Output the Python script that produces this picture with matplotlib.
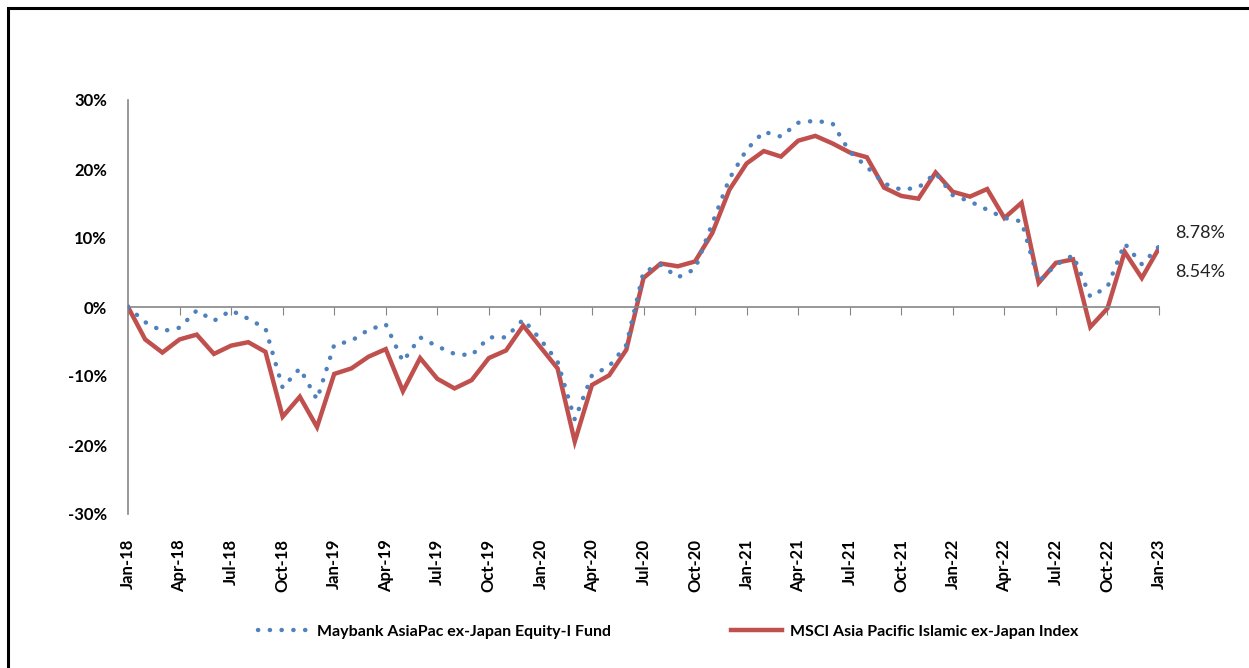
import numpy as np
import matplotlib
matplotlib.use('Agg')
import matplotlib.pyplot as plt
from matplotlib.patches import Rectangle

# Cumulative returns, monthly Jan-18 .. Jan-23 (%)
fund = [0.0, -2.2, -3.5, -3.0, -0.5, -2.0, -0.5, -1.7, -3.1, -11.7,
        -8.9, -13.4, -5.5, -4.9, -3.3, -2.5, -7.9, -4.4, -5.7, -6.8,
        -7.0, -4.4, -4.4, -1.8, -4.7, -7.9, -16.3, -9.9, -8.6, -5.5,
        5.1, 6.1, 4.3, 5.5, 12.1, 18.6, 22.8, 25.4, 24.7, 26.7,
        27.0, 26.6, 22.5, 20.3, 17.9, 17.0, 17.3, 19.4, 16.2, 15.3,
        14.1, 12.9, 12.4, 3.7, 6.1, 7.5, 1.5, 2.9, 9.2, 6.2, 8.78]
index = [0.0, -4.7, -6.6, -4.7, -4.0, -6.8, -5.6, -5.1, -6.5, -15.9,
         -13.0, -17.4, -9.7, -8.9, -7.2, -6.1, -12.2, -7.4, -10.4, -11.8,
         -10.6, -7.4, -6.3, -2.7, -5.8, -8.9, -19.5, -11.3, -9.9, -6.2,
         4.2, 6.3, 5.9, 6.6, 10.7, 17.0, 20.8, 22.6, 21.8, 24.1,
         24.8, 23.7, 22.4, 21.7, 17.3, 16.1, 15.7, 19.5, 16.7, 16.0,
         17.1, 12.9, 15.1, 3.5, 6.4, 6.9, -2.9, -0.2, 8.0, 4.2, 8.54]
tick_labels = ['Jan-18', 'Apr-18', 'Jul-18', 'Oct-18', 'Jan-19', 'Apr-19', 'Jul-19',
               'Oct-19', 'Jan-20', 'Apr-20', 'Jul-20', 'Oct-20', 'Jan-21', 'Apr-21',
               'Jul-21', 'Oct-21', 'Jan-22', 'Apr-22', 'Jul-22', 'Oct-22', 'Jan-23']
fund_name = 'Maybank AsiaPac ex-Japan Equity-I Fund'
index_name = 'MSCI Asia Pacific Islamic ex-Japan Index'

blue = '#4F81BD'
red = '#C0504D'
grey = '#868686'
plt.rcParams['font.family'] = ['Lato', 'DejaVu Sans']

fig = plt.figure(figsize=(12.49, 6.68), dpi=100)
ax = fig.add_axes([128/1249, 1 - 514/668, 1031/1249, 414/668])

x = np.arange(len(fund))
ax.plot(x, fund, color=blue, lw=3.2, ls=(0, (0.05, 2.6)), dash_capstyle='round',
        label=fund_name, zorder=3)
ax.plot(x, index, color=red, lw=3.2, solid_joinstyle='miter', label=index_name, zorder=2)

ax.set_xlim(0, len(fund) - 1)
ax.set_ylim(-30, 30)
ax.set_yticks(np.arange(-30, 31, 10))
ax.set_yticklabels([f'{v}%' for v in range(-30, 31, 10)], fontsize=12, fontweight='bold')

# category axis crosses at zero
ax.spines['bottom'].set_position(('data', 0))
for s in ['top', 'right']:
    ax.spines[s].set_visible(False)
for s in ['left', 'bottom']:
    ax.spines[s].set_color(grey)
    ax.spines[s].set_linewidth(1.2)
tick_pos = np.arange(0, len(fund), 3)
ax.set_xticks(tick_pos)
ax.tick_params(axis='x', direction='out', length=6, color=grey, labelbottom=False)
ax.tick_params(axis='y', direction='out', length=0, pad=15)
for p, lab in zip(tick_pos, tick_labels):
    ax.text(p, -0.06, lab, transform=ax.get_xaxis_transform(), rotation=90,
            ha='center', va='top', fontsize=12, fontweight='bold')

# end-value labels
ax.annotate(f'{fund[-1]:.2f}%', (x[-1], fund[-1]), xytext=(16, 13),
            textcoords='offset pixels', ha='left', va='center', fontsize=13,
            color='#222222', annotation_clip=False)
ax.annotate(f'{index[-1]:.2f}%', (x[-1], index[-1]), xytext=(16, -24),
            textcoords='offset pixels', ha='left', va='center', fontsize=13,
            color='#222222', annotation_clip=False)

leg = fig.legend(loc='center', bbox_to_anchor=(0.535, 0.054), ncol=2, frameon=False,
                 handlelength=3.2, columnspacing=7.5, handletextpad=0.5,
                 prop={'weight': 'bold', 'size': 11.5})

# outer frame
fig.patches.append(Rectangle((8/1249, -0.2), 1.2, 1.2 - 8/668, transform=fig.transFigure,
                             fill=False, edgecolor='black', lw=2.2))

fig.savefig('out.png', dpi=100)
